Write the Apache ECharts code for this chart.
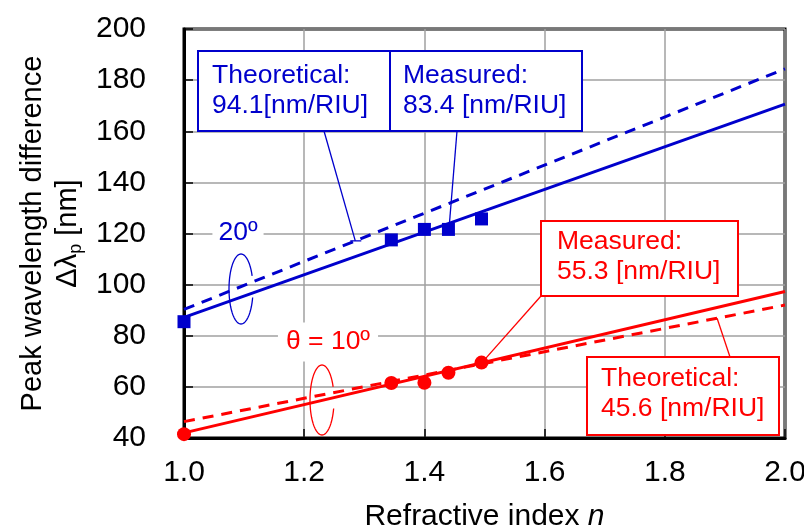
<!DOCTYPE html>
<html>
<head>
<meta charset="utf-8">
<script src="https://cdn.jsdelivr.net/npm/echarts@6/dist/echarts.min.js"></script>
<style>
html, body { margin: 0; padding: 0; background: #fff; }
#main { width: 804px; height: 530px; }
</style>
</head>
<body>
<div id="main"></div>
<script>
// measured points (refractive index n -> peak wavelength difference)
var nMeasured = [1.0, 1.345, 1.40, 1.44, 1.495];
var blueMeasured = [85.5, 117.5, 121.6, 121.6, 125.7];   // 20deg
var redMeasured = [41.5, 61.5, 61.6, 65.5, 69.5];        // 10deg

// fit / theory lines, end points
var fitX = [1.0, 2.0];
var blueFit = [87.2, 170.6];
var blueTheory = [90.3, 184.4];
var redFit = [42.0, 97.3];
var redTheory = [46.4, 92.0];

var BLUE = "#0000cc";
var RED = "#ff0000";
var FONT = "Liberation Sans";

function zip (xs, ys) {
    return xs.map(function (x, i) { return [x, ys[i]]; });
}
// y on a straight line given by its two end points
function onLine (ys, x) {
    return ys[0] + (ys[1] - ys[0]) * (x - fitX[0]) / (fitX[1] - fitX[0]);
}

var chart = echarts.init(document.getElementById("main"));

var option = {
    animation: false,
    backgroundColor: "#fff",
    textStyle: { fontFamily: FONT },
    grid: {
        left: 184, right: 19, top: 29, bottom: 92,
        containLabel: false, outerBoundsMode: "none",
        show: true, borderColor: "#000", borderWidth: 3
    },
    xAxis: {
        type: "value", min: 1.0, max: 2.0, interval: 0.2,
        name: "{a|Refractive index }{i|n}",
        nameLocation: "middle", nameGap: 64,
        nameTextStyle: {
            rich: {
                a: { fontSize: 30, color: "#000", fontFamily: FONT },
                i: { fontSize: 30, color: "#000", fontFamily: FONT, fontStyle: "italic" }
            }
        },
        axisLine: { show: true, lineStyle: { color: "#000", width: 3 } },
        axisTick: { show: true, inside: true, length: 9, lineStyle: { color: "#000", width: 1.5 } },
        axisLabel: {
            fontSize: 30, color: "#000", margin: 20,
            formatter: function (v) { return v.toFixed(1); }
        },
        splitLine: { show: true, lineStyle: { color: "#a0a0a0", width: 1.5 } }
    },
    yAxis: {
        type: "value", min: 40, max: 200, interval: 20,
        name: "{a|Peak wavelength difference}\n{a|Δλ}{s|p}{a| [nm]}",
        nameLocation: "middle", nameRotate: 90, nameGap: 97,
        nameTextStyle: {
            rich: {
                a: { fontSize: 29, lineHeight: 35, color: "#000", fontFamily: FONT },
                s: { fontSize: 18, lineHeight: 18, color: "#000", fontFamily: FONT, verticalAlign: "bottom" }
            }
        },
        axisLine: { show: true, lineStyle: { color: "#000", width: 3 } },
        axisTick: { show: true, inside: true, length: 9, lineStyle: { color: "#000", width: 1.5 } },
        axisLabel: { fontSize: 30, color: "#000", margin: 38 },
        splitLine: { show: true, lineStyle: { color: "#a0a0a0", width: 1.5 } }
    },
    series: [
        {
            name: "20 fit", type: "line", data: zip(fitX, blueFit), symbol: "none",
            lineStyle: { color: BLUE, width: 3 }, z: 3
        },
        {
            name: "20 theory", type: "line", data: zip(fitX, blueTheory), symbol: "none",
            lineStyle: { color: BLUE, width: 3, type: [11, 8] }, z: 3
        },
        {
            name: "10 fit", type: "line", data: zip(fitX, redFit), symbol: "none",
            lineStyle: { color: RED, width: 3 }, z: 3
        },
        {
            name: "10 theory", type: "line", data: zip(fitX, redTheory), symbol: "none",
            lineStyle: { color: RED, width: 3, type: [11, 8] }, z: 3
        },
        {
            name: "20 measured", type: "scatter", data: zip(nMeasured, blueMeasured),
            symbol: "rect", symbolSize: 13, clip: false,
            itemStyle: { color: BLUE, opacity: 1 }, z: 5
        },
        {
            name: "10 measured", type: "scatter", data: zip(nMeasured, redMeasured),
            symbol: "circle", symbolSize: 14, clip: false,
            itemStyle: { color: RED, opacity: 1 }, z: 5
        }
    ]
};
chart.setOption(option);

// annotations, placed after the axes exist
function px (x, y) {
    return chart.convertToPixel({ gridIndex: 0 }, [x, y]);
}
function ellipse (cx, cy, rx, ry, a0, a1) {
    var pts = [];
    for (var a = a0; a <= a1; a += 4) {
        var t = a * Math.PI / 180;
        pts.push([cx + rx * Math.cos(t), cy + ry * Math.sin(t)]);
    }
    return pts;
}
function box (x, y, w, h, color) {
    return {
        type: "rect", shape: { x: x, y: y, width: w, height: h },
        style: { fill: "#fff", stroke: color, lineWidth: 2 }, z: 20
    };
}
function boxText (x, y, txt, color) {
    return {
        type: "text", x: x, y: y, z: 21,
        style: { text: txt, fill: color, font: "26.5px " + FONT, lineHeight: 30 }
    };
}
function seg (p0, p1, color) {
    return {
        type: "line", shape: { x1: p0[0], y1: p0[1], x2: p1[0], y2: p1[1] },
        style: { stroke: color, lineWidth: 1.3 }, z: 19
    };
}

var bTheo = px(1.285, onLine(blueTheory, 1.285));
var bMeas = px(nMeasured[3], blueMeasured[3]);
var rMeas = px(nMeasured[4], redMeasured[4]);
var rTheo = px(1.887, onLine(redTheory, 1.887));

chart.setOption({
    graphic: [
        seg([324, 131], bTheo, BLUE),
        seg([bTheo[0] - 5, bTheo[1]], [bTheo[0] + 6, bTheo[1]], BLUE),
        seg([457, 131], [bMeas[0] + 1, bMeas[1] - 6], BLUE),
        seg([541, 296], [rMeas[0] + 4, rMeas[1] - 4], RED),
        seg([730, 357], rTheo, RED),
        box(198, 51, 192, 80, BLUE),
        boxText(212, 60.5, "Theoretical:\n94.1[nm/RIU]", BLUE),
        box(390, 51, 192, 80, BLUE),
        boxText(403, 60.5, "Measured:\n83.4 [nm/RIU]", BLUE),
        box(541, 221, 197, 75, RED),
        boxText(557, 227, "Measured:\n55.3 [nm/RIU]", RED),
        box(587, 357, 192, 78, RED),
        boxText(601, 364, "Theoretical:\n45.6 [nm/RIU]", RED),
        {
            type: "text", x: 238, y: 233, z: 21,
            style: {
                text: "20º", fill: BLUE, font: "26.5px " + FONT,
                align: "center", verticalAlign: "middle",
                backgroundColor: "#fff", padding: [4, 6]
            }
        },
        {
            type: "text", x: 328, y: 342, z: 21,
            style: {
                text: "θ = 10º", fill: RED, font: "26.5px " + FONT,
                align: "center", verticalAlign: "middle",
                backgroundColor: "#fff", padding: [6, 8]
            }
        },
        {
            type: "polyline", z: 22, shape: { points: ellipse(241, 289, 12, 35, 14, 340) },
            style: { stroke: BLUE, lineWidth: 1.3, fill: null }
        },
        {
            type: "polyline", z: 22, shape: { points: ellipse(322, 400, 12, 35, 14, 340) },
            style: { stroke: RED, lineWidth: 1.3, fill: null }
        }
    ]
});
</script>
</body>
</html>
